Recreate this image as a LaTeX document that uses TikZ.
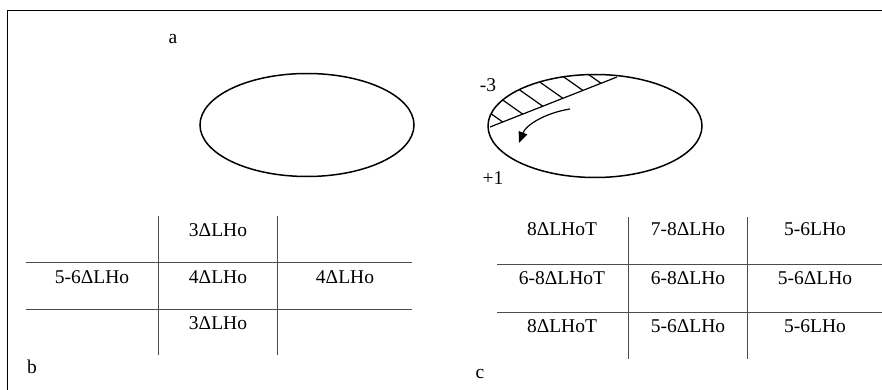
\documentclass[tikz,border=0pt]{standalone}
\usepackage{fontspec}
\setmainfont{Liberation Serif}
\usetikzlibrary{arrows.meta, positioning, shapes.geometric}

\begin{document}
\begin{tikzpicture}[
  x=1pt, y=-1pt,
  lbl/.style={font=\fontsize{19.5}{22}\selectfont, inner sep=0pt},
  rule/.style={draw=black!70, line width=1pt},
  oval/.style={draw, ellipse, line width=1.5pt, inner sep=0pt, minimum height=103pt},
  hatch/.style={line width=1.2pt},
  turn/.style={-{Triangle[length=11pt, width=9pt]}, line width=1.2pt}
]
\useasboundingbox (0,0) rectangle (882,390);
\draw[line width=1pt] (882,11) -- (7,11) -- (7,390);

% panel a
\node[lbl] (a) at (173,39) {a};
\node[oval, minimum width=214pt] (left) at (307,125) {};
\node[oval, minimum width=214pt] (right) at (595,126) {};
\coordinate (c1) at (490,127);
\coordinate (c2) at (617,77);
\draw[hatch] (c1) -- (c2);
\begin{scope}
  \clip (595,126) ellipse [x radius=107, y radius=51.5];
  \foreach \x/\y in {503/122.2, 523/114.3, 543/106.4, 563/98.4, 583/90.5, 601/83.3}
    \draw[hatch] (\x,\y) -- ++(-44,-31);
\end{scope}
\coordinate (s) at (570,109);
\coordinate (e) at (519,143);
\draw[turn] (s) .. controls (545,113) and (526,125) .. (e);
\node[lbl] (m3) at (488,85) {-3};
\node[lbl] (p1) at (493,178) {+1};

% panel b
\node[lbl] (b) at (32,367) {b};
\draw[rule] (158,216) -- (158,355);
\draw[rule] (277,216) -- (277,355);
\draw[rule] (26,262) -- (412,262);
\draw[rule] (26,309) -- (412,309);
\node[lbl] (b12) at (218,230) {3ΔLHo};
\node[lbl] (b21) at (92,277) {5-6ΔLHo};
\node[lbl] (b22) at (218,277) {4ΔLHo};
\node[lbl] (b23) at (345,277) {4ΔLHo};
\node[lbl] (b32) at (218,323) {3ΔLHo};

% panel c
\node[lbl] (c) at (480,374) {c};
\draw[rule] (628,217) -- (628,359);
\draw[rule] (747,217) -- (747,359);
\draw[rule] (497,264) -- (882,264);
\draw[rule] (497,312) -- (882,312);
\node[lbl] (c11) at (562,229) {8ΔLHoT};
\node[lbl] (c12) at (688,229) {7-8ΔLHo};
\node[lbl] (c13) at (815,229) {5-6LHo};
\node[lbl] (c21) at (562,278) {6-8ΔLHoT};
\node[lbl] (c22) at (688,278) {6-8ΔLHo};
\node[lbl] (c23) at (815,278) {5-6ΔLHo};
\node[lbl] (c31) at (562,326) {8ΔLHoT};
\node[lbl] (c32) at (688,326) {5-6ΔLHo};
\node[lbl] (c33) at (815,326) {5-6LHo};
\end{tikzpicture}
\end{document}
